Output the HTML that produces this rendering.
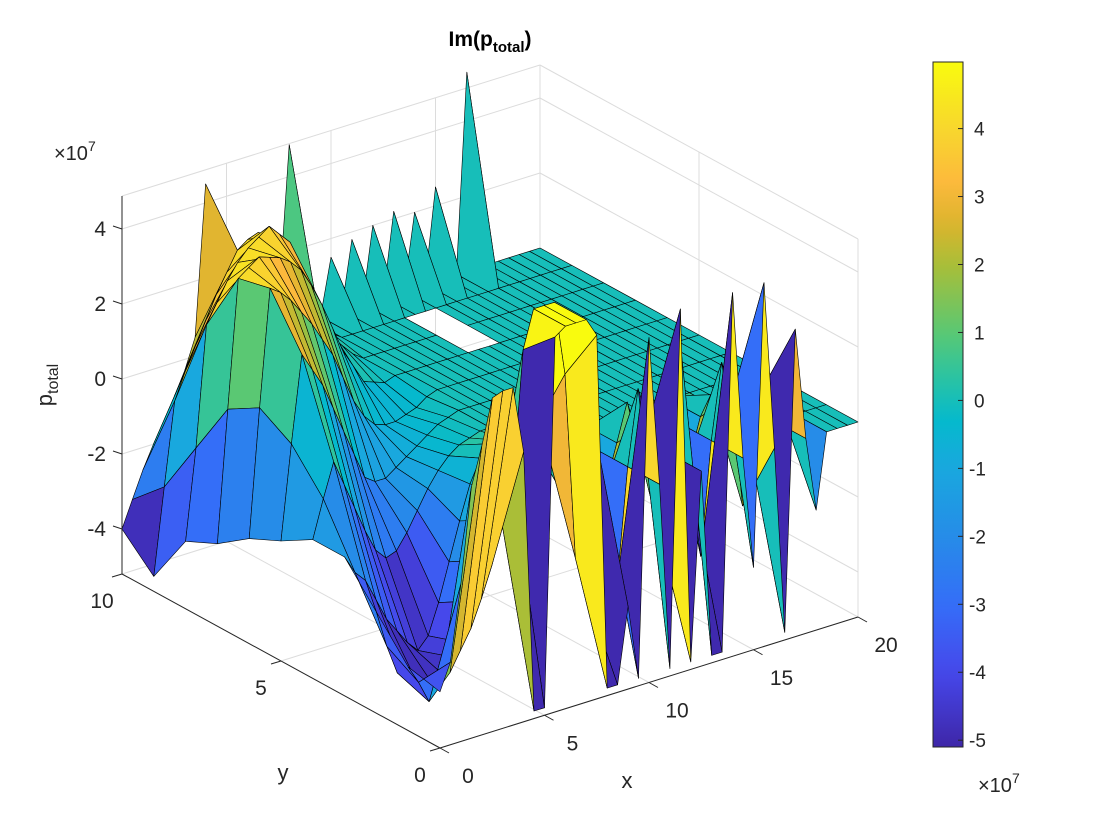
<!DOCTYPE html>
<html><head><meta charset="utf-8"><style>
body{margin:0;background:#fff;}
svg{display:block;font-family:"Liberation Sans",sans-serif;}
</style></head><body>
<svg id="chart" width="1120" height="840" viewBox="0 0 1120 840" xmlns="http://www.w3.org/2000/svg">
<rect width="1120" height="840" fill="#fff"/>
<g id="grid" stroke="#dcdcdc" stroke-width="1" fill="none"></g>
<g id="surf" stroke="#000" stroke-width="0.6" stroke-linejoin="round"></g>
<g id="axes" stroke="#262626" stroke-width="1" fill="#262626"></g>
<text x="490" y="46" text-anchor="middle" font-size="21" font-weight="bold" fill="#000">Im(p<tspan font-size="15" dy="6">total</tspan><tspan dy="-6">)</tspan></text>
<text x="54" y="160" font-size="20" fill="#262626">×10<tspan font-size="14" dy="-9">7</tspan></text>
<text transform="translate(52,385) rotate(-90)" text-anchor="middle" font-size="22" fill="#262626">p<tspan font-size="16" dy="6">total</tspan></text>
<text x="627" y="788" text-anchor="middle" font-size="22" fill="#262626">x</text>
<text x="283" y="780" text-anchor="middle" font-size="22" fill="#262626">y</text>
<g id="cbar"></g>
<text x="978" y="792" font-size="20" fill="#262626">×10<tspan font-size="14" dy="-9">7</tspan></text>
</svg>
<script>
// ---- data (values in units of 1e7), x step 0.5, y step 1 ----
const xs = [0,0.5,1,1.5,2,2.5,3,3.5,4,4.5,5,5.5,6,6.5,7,7.5,8,8.5,9,9.5,10,10.5,11,11.5,12,12.5,13,13.5,14,14.5,15,15.5,16,16.5,17,17.5,18,18.5,19,19.5,20];
const ys = [0,1,2,3,4,5,6,7,8,9,10];
const zRow0  = [-3.7,-3,-1,1.5,2.5,3.7,3.8,3.8,2,-5, -5,4.8,5,5,5,4.5,-5,-5,-3,-5, 4,0,-5,4.5,-5,0,-5,-5,4.5,0, -3,4.5,0,-5,3,0,-2,0,0,0,0];
const zRow1  = [-3.5,-4,-4.6,-4.3,-4,-3.5,-3,-2.3,-1.5,-0.5, 0.5,4,5,5,5,3,-2,-3,1,-1, -3,0,2,1,-2,0,3,-1,-3,0, 2,1,-2,-1,1,0,0,0,0,0,0];
const zRow2  = [-2.5,-3.5,-4.3,-4.6,-4.8,-4.7,-4.6,-4.3,-4,-3, -2,-1,-0.3,0.3,0.8,1,0.8,0.3,-1,0, 0.5,0,-1,0,1,0,-1,0,0.5,0, -1,0,0.5,0,0,0,0,0,0,0,0];
const zRow3  = [-1.5,-2,-2.3,-2.9,-3.5,-3.9,-4.3,-4.6,-4.3,-3.5, -2.5,-1.5,-0.6,0,0.3,0.3,0.2,0,0,0, 0,0,0,0,0,0,0,0,0,0, 0,0,0,0,0,0,0,0,0,0,0];
const zRow4  = [-1.5,-0.5,0.4,-0.3,-1,-1.7,-2.3,-2.6,-2.5,-2.1, -1.6,-1.1,-0.7,-0.4,-0.2,-0.1,0,0,0,0, 0,0,0,0,0,0,0,0,0,0, 0,0,0,0,0,0,0,0,0,0,0];
const zRow5  = [-2,0.5,2.8,2.3,1.8,1.1,0.4,-0.3,-1,-1.2, -1.2,-1,-0.8,-0.6,-0.4,-0.2,-0.1,0,0,0, 0,0,0,0,0,0,0,0,0,0, 0,0,0,0,0,0,0,0,0,0,0];
const zRow6  = [-2.4,1,4.1,3.9,3.6,3.2,2.8,2.3,1.8,1.1, 0.4,-0.1,-0.4,-0.5,-0.5,-0.4,-0.3,-0.1,0,0, 0,0,0,0,0,0,0,0,0,0, 0,0,0,0,0,0,0,0,0,0,0];
const zRow7  = [-3,0.5,3.9,4.1,4.3,4.2,4.1,3.9,3.6,3.1, 2.5,1.8,1.1,0.6,0.1,0,-0.1,0,0,0, 0,0,0,0,0,0,0,0,0,0, 0,0,0,0,0,0,0,0,0,0,0];
const zRow8  = [-3.4,-1,2.2,2.7,3.2,3.6,3.9,4.1,4.3,4.0, 3.7,3.0,2.2,1.5,0.8,0.5,0.2,0,0,0, 0,0,0,0,0,null,null,0,0,0, 0,0,0,0,0,0,0,0,0,0,0];
const zRow9  = [-4.8,-2.5,-0.3,0.4,1,1.6,2.2,2.7,3.2,3.4, 3.5,3.1,2.6,1.9,1.2,0.8,0.4,0.2,0,0, 0,0,0,0,0,0,0,0,0,0, 0,0,0,0,0,0,0,0,0,0,0];
const zRow10 = [-4,-3.3,-2.6,-2,-1.5,-0.9,-0.3,0.5,4.5,1.8, 2,2,1.9,1.5,1.2,0.8,4.85,0.3,0,0, 1.5,0,1.8,0,2,0,2.2,0,2,0, 2.5,0,0,5.3,0,0,0,0,0,0,0];
const zRows = [zRow0,zRow1,zRow2,zRow3,zRow4,zRow5,zRow6,zRow7,zRow8,zRow9,zRow10];
const xTicks = [0,5,10,15,20];
const yTicks = [0,5,10];
const zTicks = [-4,-2,0,2,4];
const cbTicks = [-5,-4,-3,-2,-1,0,1,2,3,4];
const cmin = -5.1, cmax = 4.98, zmin = -5.2, zmax = 4.88;

const NS = "http://www.w3.org/2000/svg";
function P(x,y,z){ return [440 + 20.9*x - 31.8*y, 748 - 6.55*x - 17.4*y - 37.5*(z - zmin)]; }
const stops = [[-5.1,[62,38,168]],[-4,[70,72,235]],[-3,[52,110,248]],[-2,[38,140,232]],[-1,[25,168,222]],[-0.3,[5,185,205]],[0.3,[40,195,165]],[1,[90,200,115]],[2,[170,190,55]],[2.6,[220,180,45]],[3.2,[252,185,60]],[4,[248,215,45]],[4.98,[249,251,14]]];
function cmap(v){
  v = Math.max(cmin, Math.min(cmax, v));
  for (let i=0;i<stops.length-1;i++){
    const a=stops[i], b=stops[i+1];
    if (v<=b[0]){ const t=(v-a[0])/(b[0]-a[0]);
      return 'rgb('+a[1].map((c,k)=>Math.round(c+(b[1][k]-c)*t)).join(',')+')'; }
  }
  return 'rgb(249,251,14)';
}
function mk(tag, attrs, parent){ const e=document.createElementNS(NS,tag); for(const k in attrs) e.setAttribute(k,attrs[k]); parent.appendChild(e); return e; }
function line(p,q,parent,extra){ return mk('line',Object.assign({x1:p[0],y1:p[1],x2:q[0],y2:q[1]},extra||{}),parent); }

// ---- grid lines ----
const grid = document.getElementById('grid');
zTicks.forEach(z=>{
  let l = line(P(0,10,z),P(20,10,z),grid);
  
  
  l = line(P(20,10,z),P(20,0,z),grid);
  
  
});
xTicks.forEach(x=>{
  let l = line(P(x,10,zmin),P(x,10,zmax),grid);
  
  
  l = line(P(x,0,zmin),P(x,10,zmin),grid);
  
  
});
yTicks.forEach(y=>{
  let l = line(P(20,y,zmin),P(20,y,zmax),grid);
  
  
  l = line(P(0,y,zmin),P(20,y,zmin),grid);
  
  
});
let bt = line(P(0,10,zmax),P(20,10,zmax),grid);


bt = line(P(20,10,zmax),P(20,0,zmax),grid);



// ---- surface ----
const surf = document.getElementById('surf');
const quads = [];
for (let j=0;j<ys.length-1;j++){
  for (let i=0;i<xs.length-1;i++){
    const z00=zRows[j][i], z10=zRows[j][i+1], z01=zRows[j+1][i], z11=zRows[j+1][i+1];
    if (z00===null||z10===null||z01===null||z11===null) continue;
    const xc=(xs[i]+xs[i+1])/2, yc=(ys[j]+ys[j+1])/2;
    quads.push({d:6.55*xc+17.4*yc, pts:[P(xs[i],ys[j],z00),P(xs[i+1],ys[j],z10),P(xs[i+1],ys[j+1],z11),P(xs[i],ys[j+1],z01)], c:z00});
  }
}
quads.sort((a,b)=>b.d-a.d);
quads.forEach(q=>{
  const p = mk('polygon',{points:q.pts.map(p=>p[0].toFixed(1)+','+p[1].toFixed(1)).join(' '), fill:cmap(q.c)},surf);
  
  
});

// ---- axes ----
const ax = document.getElementById('axes');
let a = line(P(0,10,zmin),P(0,10,zmax),ax);  
a = line(P(0,10,zmin),P(0,0,zmin),ax);  
a = line(P(0,0,zmin),P(20,0,zmin),ax);  
zTicks.forEach(z=>{
  const p=P(0,10,z);
  let t = line(p,[p[0]-9,p[1]-3],ax);  
  const tx = mk('text',{x:p[0]-16,y:p[1]+7,'text-anchor':'end','font-size':21,stroke:'none'},ax);
  tx.textContent=String(z);
  
  
});
xTicks.forEach(x=>{
  const p=P(x,0,zmin);
  let t = line(p,[p[0]+9,p[1]+5],ax);  
  const tx = mk('text',{x:p[0]+28,y:p[1]+35,'text-anchor':'middle','font-size':21,stroke:'none'},ax);
  tx.textContent=String(x);
  
  
});
yTicks.forEach(y=>{
  const p=P(0,y,zmin);
  let t = line(p,[p[0]-10,p[1]+3],ax);  
  const tx = mk('text',{x:p[0]-20,y:p[1]+34,'text-anchor':'middle','font-size':21,stroke:'none'},ax);
  tx.textContent=String(y);
  
  
});

// ---- colorbar ----
const cb = document.getElementById('cbar');
const cbX=933, cbW=30, cbTop=62, cbBot=747;
const defs = mk('defs',{},cb);
const grad = mk('linearGradient',{id:'cbg',x1:0,y1:1,x2:0,y2:0},defs);
for (let k=0;k<=40;k++){ const v=cmin+(cmax-cmin)*k/40; mk('stop',{offset:(k/40).toFixed(3),'stop-color':cmap(v)},grad); }
const cr = mk('rect',{x:cbX,y:cbTop,width:cbW,height:cbBot-cbTop,fill:'url(#cbg)',stroke:'#262626','stroke-width':1},cb);


function cbY(v){ return cbBot-(v-cmin)/(cmax-cmin)*(cbBot-cbTop); }
cbTicks.forEach(v=>{
  const y=cbY(v);
  const t=line([cbX+cbW-5,y],[cbX+cbW,y],cb,{stroke:'#262626'});
  
  
  const tx=mk('text',{x:v<0?cbX+cbW+6:cbX+cbW+11,y:y+7,'font-size':19,fill:'#262626'},cb);
  tx.textContent=String(v);
  
  
});
</script>
</body></html>
